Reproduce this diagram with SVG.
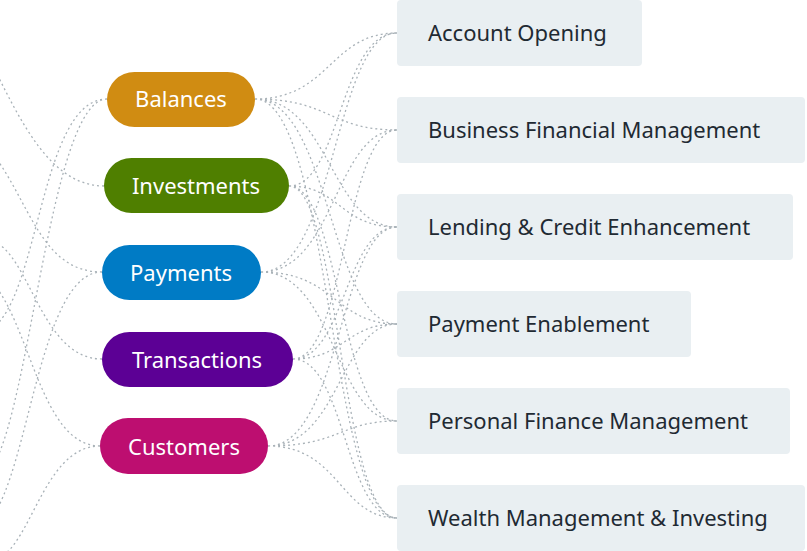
<svg xmlns="http://www.w3.org/2000/svg" width="807" height="551" viewBox="0 0 807 551">
<style>
.c{fill:none;stroke:#a9b2b8;stroke-width:1.3;stroke-dasharray:2 3}
.b{fill:#e9eff2}
.bt{font-family:"Noto Sans",sans-serif;font-size:22px;fill:#1f2a33}
.pt{font-family:"Noto Sans",sans-serif;font-size:22px;fill:#fff;text-anchor:middle}
</style>
<rect width="807" height="551" fill="#fff"/>
<g id="connectors">
<path class="c" d="M255 99C330 99 330 33 397 33M255 99C330 99 330 130 397 130M255 99C330 99 330 227 397 227M255 99C330 99 330 324 397 324M255 99C330 99 330 518 397 518"/>
<path class="c" d="M289 186C340 186 340 33 397 33M289 186C340 186 340 227 397 227M289 186C340 186 340 421 397 421M289 186C340 186 340 518 397 518"/>
<path class="c" d="M261 272C335 272 335 33 397 33M261 272C335 272 335 130 397 130M261 272C335 272 335 324 397 324M261 272C335 272 335 421 397 421"/>
<path class="c" d="M293 359C345 359 345 130 397 130M293 359C345 359 345 227 397 227M293 359C345 359 345 324 397 324M293 359C345 359 345 518 397 518"/>
<path class="c" d="M268 446C340 446 340 227 397 227M268 446C340 446 340 324 397 324M268 446C340 446 340 421 397 421M268 446C340 446 340 518 397 518"/>
<path class="c" d="M107 99C40 99 40 300 -10 330M104 186C50 186 20 120 -10 60M102 272C40 272 30 200 -10 150M102 359C40 359 30 250 -10 240M100 446C40 446 30 320 -10 280M107 99C50 99 30 420 -10 470M100 446C40 446 30 560 -10 560M102 272C40 272 30 470 -10 520"/>
</g>
<g id="n1"><rect class="b" x="397" y="0" width="245" height="66" rx="4"/><text class="bt" x="428" y="41">Account Opening</text></g>
<g id="n2"><rect class="b" x="397" y="97" width="408" height="66" rx="4"/><text class="bt" x="428" y="138">Business Financial Management</text></g>
<g id="n3"><rect class="b" x="397" y="194" width="396" height="66" rx="4"/><text class="bt" x="428" y="235">Lending &amp; Credit Enhancement</text></g>
<g id="n4"><rect class="b" x="397" y="291" width="294" height="66" rx="4"/><text class="bt" x="428" y="332">Payment Enablement</text></g>
<g id="n5"><rect class="b" x="397" y="388" width="393" height="66" rx="4"/><text class="bt" x="428" y="429">Personal Finance Management</text></g>
<g id="n6"><rect class="b" x="397" y="485" width="408" height="66" rx="4"/><text class="bt" x="428" y="526">Wealth Management &amp; Investing</text></g>
<g id="p1"><rect x="107" y="72" width="148" height="55" rx="27.5" fill="#d08c12"/><text class="pt" x="181" y="107">Balances</text></g>
<g id="p2"><rect x="104" y="158" width="185" height="55" rx="27.5" fill="#4f7f00"/><text class="pt" x="196" y="194">Investments</text></g>
<g id="p3"><rect x="102" y="245" width="159" height="55" rx="27.5" fill="#007bc5"/><text class="pt" x="181" y="281">Payments</text></g>
<g id="p4"><rect x="102" y="332" width="191" height="55" rx="27.5" fill="#5c0095"/><text class="pt" x="197" y="368">Transactions</text></g>
<g id="p5"><rect x="100" y="418" width="168" height="56" rx="28" fill="#bd0e70"/><text class="pt" x="184" y="455">Customers</text></g>
</svg>
